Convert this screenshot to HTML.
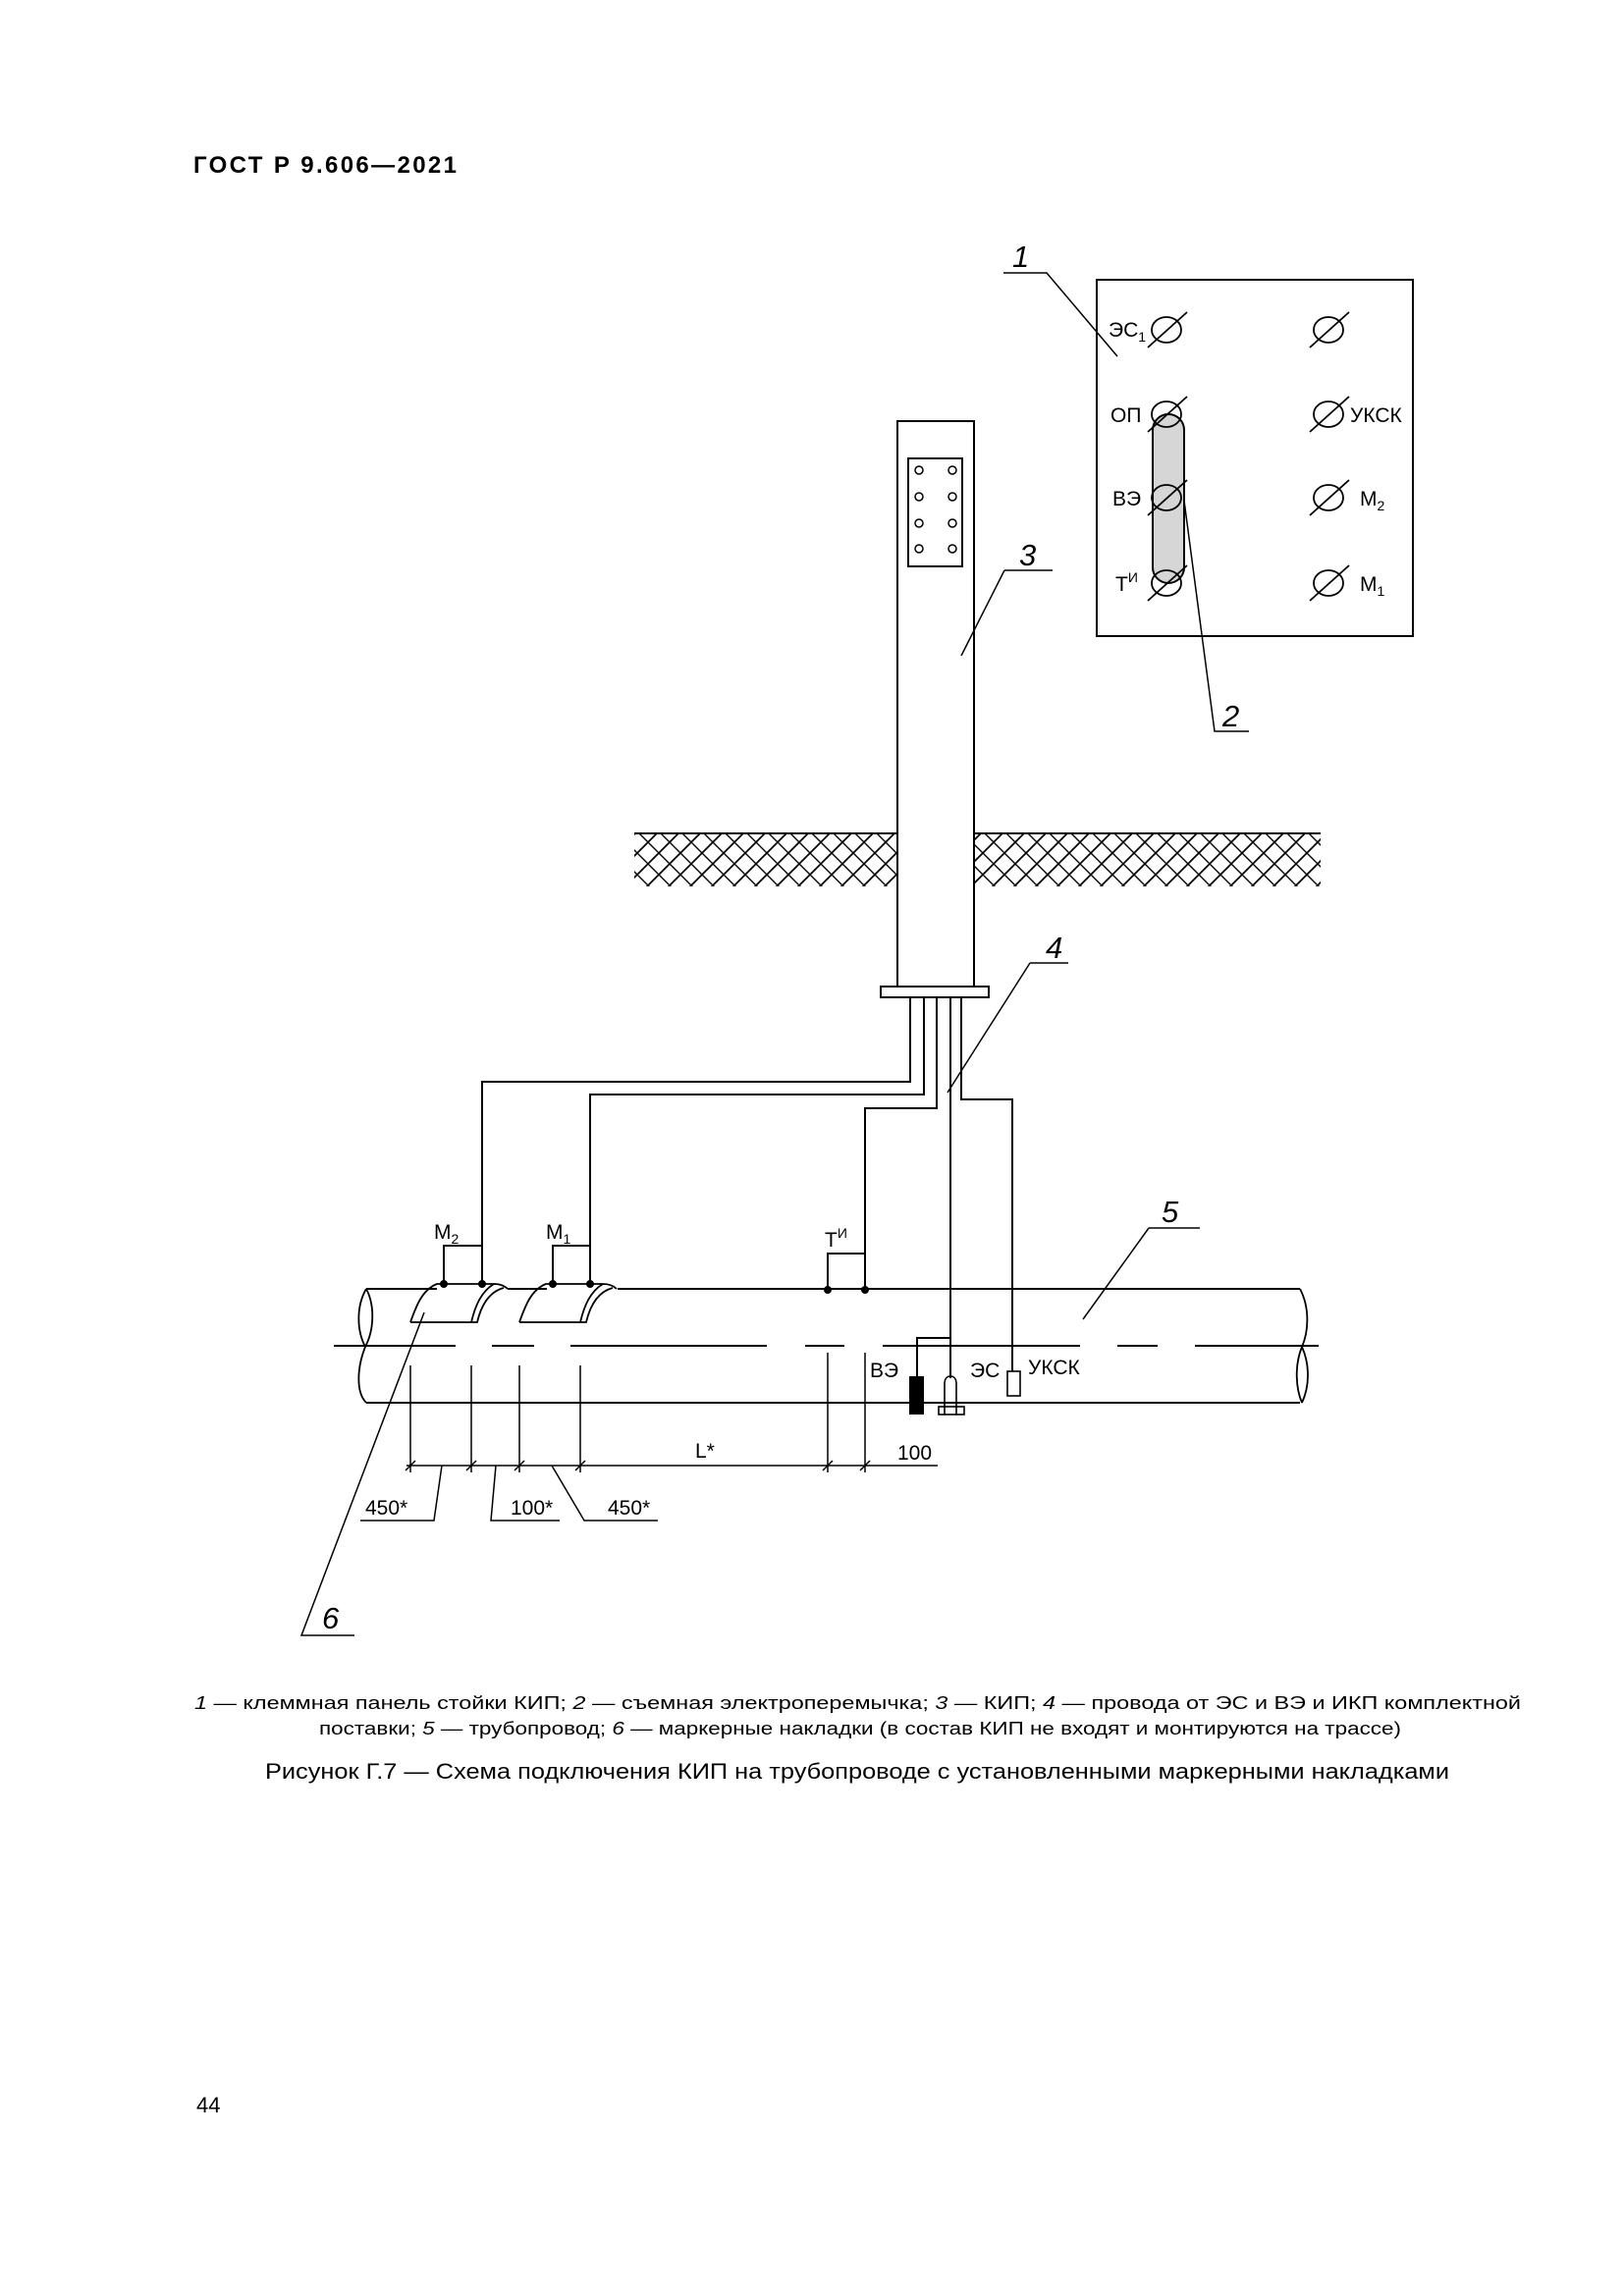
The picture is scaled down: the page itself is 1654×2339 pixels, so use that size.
<!DOCTYPE html>
<html><head><meta charset="utf-8"><style>
html,body{margin:0;padding:0;background:#fff;}
svg{display:block;}
text{font-family:"Liberation Sans",sans-serif;fill:#000;}
</style></head><body>
<svg width="1654" height="2339" viewBox="0 0 1654 2339" xmlns="http://www.w3.org/2000/svg">
<defs>
<pattern id="h" width="22" height="22" patternUnits="userSpaceOnUse">
<path d="M-5,5 L5,-5 M0,22 L22,0 M17,27 L27,17" stroke="#000" stroke-width="1.7"/>
<path d="M0,0 L22,22 M-5,17 L5,27 M17,-5 L27,5" stroke="#000" stroke-width="1.4"/>
</pattern>
</defs>
<text x="197" y="176" font-size="24" font-weight="bold" textLength="268">ГОСТ Р 9.606—2021</text>

<g fill="none" stroke="#000" stroke-width="2">
<rect x="1117" y="285" width="322" height="363"/>
<rect x="1174" y="422" width="32" height="172" rx="16" fill="#d6d6d6" stroke-width="2"/>
<g stroke-width="1.8">
<ellipse cx="1188" cy="336" rx="15" ry="13"/><ellipse cx="1188" cy="422" rx="15" ry="13"/>
<ellipse cx="1188" cy="507" rx="15" ry="13"/><ellipse cx="1188" cy="594" rx="15" ry="13"/>
<ellipse cx="1353" cy="336" rx="15" ry="13"/><ellipse cx="1353" cy="422" rx="15" ry="13"/>
<ellipse cx="1353" cy="507" rx="15" ry="13"/><ellipse cx="1353" cy="594" rx="15" ry="13"/>
<path d="M1169,354 L1209,318 M1169,440 L1209,404 M1169,525 L1209,489 M1169,612 L1209,576 M1334,354 L1374,318 M1334,440 L1374,404 M1334,525 L1374,489 M1334,612 L1374,576"/>
</g>
<path d="M1022,278 L1066,278 L1138,363" stroke-width="1.5"/>
<path d="M1206,510 L1237,745 L1272,745" stroke-width="1.5"/>

<rect x="914" y="429" width="78" height="576"/>
<rect x="925" y="467" width="55" height="110"/>
<g stroke-width="1.5">
<circle cx="936" cy="479" r="4"/><circle cx="970" cy="479" r="4"/>
<circle cx="936" cy="506" r="4"/><circle cx="970" cy="506" r="4"/>
<circle cx="936" cy="533" r="4"/><circle cx="970" cy="533" r="4"/>
<circle cx="936" cy="559" r="4"/><circle cx="970" cy="559" r="4"/>
</g>
<rect x="897" y="1005" width="110" height="11"/>
<path d="M1023,581 L1072,581 M1023,581 L979,668" stroke-width="1.5"/>
<path d="M1049,981 L1088,981 M1049,981 L965,1113" stroke-width="1.5"/>
</g>
<rect x="646" y="849" width="268" height="54" fill="url(#h)"/>
<rect x="992" y="849" width="353" height="54" fill="url(#h)"/>
<path d="M646,849 L914,849 M992,849 L1345,849" stroke="#000" stroke-width="2"/>

<g fill="none" stroke="#000" stroke-width="2">
<path d="M927,1016 V1102 H491 V1307"/>
<path d="M941,1016 V1115 H601 V1307"/>
<path d="M954,1016 V1129 H881 V1314"/>
<path d="M968,1016 V1404"/>
<path d="M979,1016 V1120 H1031 V1397"/>
<path d="M452,1308 V1269 H491"/>
<path d="M563,1308 V1269 H601"/>
<path d="M843,1314 V1277 H881"/>
<path d="M968,1363 H934 V1402"/>

<path d="M373,1313 H445 M517,1313 H557 M629,1313 H1324 M373,1429 H1324"/>
<path d="M373,1313 C363,1330 363,1355 372,1372 C381,1355 382,1330 373,1313 M372,1372 C364,1392 362,1418 373,1429" stroke-width="1.8"/>
<path d="M1324,1313 C1334,1332 1333,1356 1326,1372 C1318,1392 1320,1415 1326,1429 M1326,1372 C1334,1390 1334,1412 1326,1429" stroke-width="1.8"/>
<path d="M340,1371 H464 M501,1371 H544 M581,1371 H781 M820,1371 H860 M899,1371 H1100 M1138,1371 H1179 M1217,1371 H1343"/>

<path d="M418,1347 C424,1330 430,1314 445,1308 H503 C510,1308 514,1310 517,1313 M418,1347 H486 C490,1330 498,1316 513,1312 M480,1347 C484,1330 490,1316 503,1308" stroke-width="1.8"/>
<path d="M529,1347 C535,1330 541,1314 556,1308 H614 C621,1308 625,1310 628,1313 M529,1347 H597 C601,1330 609,1316 624,1312 M591,1347 C595,1330 601,1316 614,1308" stroke-width="1.8"/>

<rect x="1026" y="1397" width="13" height="25" stroke-width="1.6"/>
<path d="M962,1441 V1410 C962,1404 965,1402 968,1402 C971,1402 974,1404 974,1410 V1441" stroke-width="1.6"/>
<rect x="956" y="1433" width="26" height="8" stroke-width="1.6"/>

<g stroke-width="1.5">
<path d="M418,1391 V1500 M480,1391 V1500 M529,1391 V1500 M591,1391 V1500 M843,1378 V1500 M881,1378 V1500 M414,1493 H955"/>
<path d="M413,1498 L423,1488 M475,1498 L485,1488 M524,1498 L534,1488 M586,1498 L596,1488 M838,1498 L848,1488 M876,1498 L886,1488"/>
<path d="M367,1549 H442 L450,1493 M570,1549 H500 L505,1493 M562,1493 L595,1549 H670"/>
<path d="M1170,1251 H1222 M1170,1251 L1103,1344"/>
<path d="M361,1666 H307 L432,1337"/>
</g>
</g>
<rect x="926" y="1402" width="15" height="39" fill="#000"/>
<circle cx="452" cy="1308" r="4"/><circle cx="491" cy="1308" r="4"/>
<circle cx="563" cy="1308" r="4"/><circle cx="601" cy="1308" r="4"/>
<circle cx="843" cy="1314" r="4"/><circle cx="881" cy="1314" r="4"/>

<g font-size="21">
<text x="1129" y="343">ЭС<tspan font-size="14" dy="5">1</tspan></text>
<text x="1131" y="430">ОП</text>
<text x="1133" y="515">ВЭ</text>
<text x="1136" y="602">Т<tspan font-size="14" dy="-9">И</tspan></text>
<text x="1375" y="430">УКСК</text>
<text x="1385" y="515">М<tspan font-size="14" dy="5">2</tspan></text>
<text x="1385" y="602">М<tspan font-size="14" dy="5">1</tspan></text>
<text x="442" y="1262">М<tspan font-size="14" dy="5">2</tspan></text>
<text x="556" y="1262">М<tspan font-size="14" dy="5">1</tspan></text>
<text x="840" y="1270">Т<tspan font-size="14" dy="-9">И</tspan></text>
<text x="886" y="1403">ВЭ</text>
<text x="988" y="1403">ЭС</text>
<text x="1047" y="1400">УКСК</text>
<text x="708" y="1485">L*</text>
<text x="914" y="1487">100</text>
<text x="372" y="1543">450*</text>
<text x="520" y="1543">100*</text>
<text x="619" y="1543">450*</text>
</g>
<g font-size="31" font-style="italic">
<text x="1031" y="272">1</text>
<text x="1245" y="740">2</text>
<text x="1038" y="576">3</text>
<text x="1065" y="976">4</text>
<text x="1183" y="1245">5</text>
<text x="328" y="1659">6</text>
</g>

<text x="198" y="1741" font-size="18" textLength="1351" lengthAdjust="spacingAndGlyphs"><tspan font-style="italic">1</tspan> — клеммная панель стойки КИП; <tspan font-style="italic">2</tspan> — съемная электроперемычка; <tspan font-style="italic">3</tspan> — КИП; <tspan font-style="italic">4</tspan> — провода от ЭС и ВЭ и ИКП комплектной</text>
<text x="325" y="1767" font-size="18" textLength="1102" lengthAdjust="spacingAndGlyphs">поставки; <tspan font-style="italic">5</tspan> — трубопровод; <tspan font-style="italic">6</tspan> — маркерные накладки (в состав КИП не входят и монтируются на трассе)</text>
<text x="270" y="1812" font-size="22" textLength="1206" lengthAdjust="spacingAndGlyphs">Рисунок Г.7 — Схема подключения КИП на трубопроводе с установленными маркерными накладками</text>
<text x="200" y="2152" font-size="22">44</text>
</svg>
</body></html>
